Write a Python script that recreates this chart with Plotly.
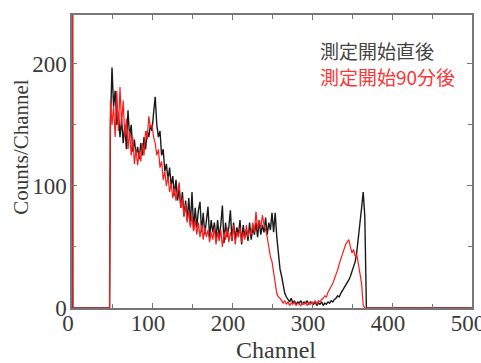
import plotly.graph_objects as go

# Channel positions
channels = [0, 1, 47] + list(range(48, 370, 2)) + [370, 500]

# 測定開始直後 (black)
black_head = [1000, 0, 0]
black_body = [
    150, 197, 165, 178, 150, 160, 140, 155, 135, 150,   # 48-66
    130, 162, 140, 150, 128, 138, 125, 132, 122, 135,   # 68-86
    125, 140, 130, 145, 140, 150, 145, 160, 173, 150,   # 88-106
    140, 145, 125, 130, 112, 118, 105, 115, 100, 108,   # 108-126
    92, 105, 88, 98, 82, 95, 75, 88, 72, 90,            # 128-146
    68, 95, 64, 82, 66, 80, 87, 62, 78, 60,             # 148-166
    75, 83, 58, 72, 62, 70, 56, 72, 58, 68,             # 168-186
    84, 53, 70, 58, 66, 80, 55, 70, 56, 66,             # 188-206
    60, 72, 52, 68, 58, 64, 55, 70, 56, 66,             # 208-226
    60, 70, 58, 72, 60, 68, 62, 74, 60, 70,             # 228-246
    64, 78, 62, 78, 58, 45, 32, 26, 18, 12,             # 248-266
    9, 7, 5, 8, 4, 6, 3, 5, 4, 6,                       # 268-286
    3, 5, 4, 6, 3, 5, 4, 3, 5, 2,                       # 288-306
    4, 3, 5, 2, 4, 3, 5, 4, 6, 5,                       # 308-326
    7, 8, 10, 9, 12, 14, 16, 18, 20, 23,                # 328-346
    26, 30, 34, 38, 46, 56, 70, 82, 95, 75,             # 348-366
    0,                                                  # 368
]
black_tail = [0, 0]

# 測定開始90分後 (red)
red_head = [1000, 0, 0]
red_body = [
    170, 150, 165, 140, 178, 145, 181, 150, 170, 140,   # 48-66
    155, 130, 145, 125, 140, 118, 130, 117, 128, 120,   # 68-86
    135, 125, 145, 138, 157, 148, 150, 140, 135, 125,   # 88-106
    130, 115, 120, 105, 112, 100, 108, 95, 102, 90,     # 108-126
    98, 88, 95, 103, 82, 90, 75, 85, 70, 80,            # 128-146
    66, 76, 63, 72, 60, 70, 58, 68, 56, 66,             # 148-166
    58, 64, 54, 62, 56, 66, 52, 62, 55, 64,             # 168-186
    50, 62, 56, 66, 54, 62, 56, 68, 52, 62,             # 188-206
    58, 66, 54, 62, 56, 68, 58, 64, 60, 70,             # 208-226
    62, 79, 64, 72, 66, 76, 68, 64, 58, 48,             # 228-246
    42, 38, 28, 18, 12, 9, 8, 6, 4, 6,                  # 248-266
    3, 5, 2, 4, 3, 5, 2, 4, 3, 2,                       # 268-286
    4, 3, 5, 2, 4, 3, 5, 4, 6, 3,                       # 288-306
    6, 5, 7, 8, 10, 9, 13, 15, 17, 20,                  # 308-326
    24, 27, 31, 36, 40, 44, 48, 52, 54, 56,             # 328-346
    50, 45, 48, 42, 44, 36, 30, 20, 2, 0,               # 348-366
    0,                                                  # 368
]
red_tail = [0, 0]

black_vals = black_head + black_body + black_tail
red_vals = red_head + red_body + red_tail

x_ticks = [0, 100, 200, 300, 400, 500]
y_ticks = [0, 100, 200]

serif = "Liberation Serif, Times New Roman, serif"
cjk = "Noto Sans CJK JP"
txt_gray = "#3a3a3a"
ax_gray = "#777777"

fig = go.Figure()
fig.add_trace(go.Scatter(x=channels, y=black_vals, mode="lines",
                         line=dict(color="#1a1a1a", width=1.4),
                         name="測定開始直後", showlegend=False))
fig.add_trace(go.Scatter(x=channels, y=red_vals, mode="lines",
                         line=dict(color="#ff1a1a", width=1.2),
                         name="測定開始90分後", showlegend=False))

tick_font = dict(family=serif, size=23, color=txt_gray)
axis_common = dict(showline=True, linecolor=ax_gray, linewidth=1.5, mirror="ticks",
                   ticks="inside", ticklen=5, tickcolor=ax_gray, tickwidth=1,
                   showgrid=False, zeroline=False, ticklabeloverflow="allow",
                   automargin=False, tickfont=tick_font)

fig.update_xaxes(range=[0, 500], tickvals=x_ticks, ticklabelshift=-4, ticklabelstandoff=-6,
                 minor=dict(dtick=50, tick0=0, ticks="inside", ticklen=4, tickcolor=ax_gray),
                 **axis_common)
fig.update_yaxes(range=[0, 240], tickvals=y_ticks, ticklabelstandoff=-1,
                 minor=dict(dtick=50, tick0=0, ticks="inside", ticklen=4, tickcolor=ax_gray),
                 **axis_common)

# Axis titles
fig.add_annotation(x=0.51, y=-0.145, xref="paper", yref="paper", text="Channel",
                   showarrow=False, xanchor="center", yanchor="middle",
                   font=dict(family=serif, size=24, color=txt_gray))
fig.add_annotation(x=-0.127, y=0.548, xref="paper", yref="paper", text="Counts/Channel",
                   showarrow=False, xanchor="center", yanchor="middle", textangle=-90,
                   font=dict(family=serif, size=21, color=txt_gray))

# Series labels
fig.add_annotation(x=307.5, y=210.7, xref="x", yref="y", text="測定開始直後",
                   showarrow=False, xanchor="left", yanchor="middle",
                   font=dict(family=cjk, size=19, color="#444444"))
fig.add_annotation(x=307.5, y=189.3, xref="x", yref="y", text="測定開始90分後",
                   showarrow=False, xanchor="left", yanchor="middle",
                   font=dict(family=cjk, size=19, color="#ff3333"))

fig.update_layout(width=481, height=363,
                  margin=dict(l=72, r=9, t=15, b=55, autoexpand=False),
                  font=dict(family=serif, color=txt_gray),
                  paper_bgcolor="white", plot_bgcolor="white")

fig.write_html("out.html")
